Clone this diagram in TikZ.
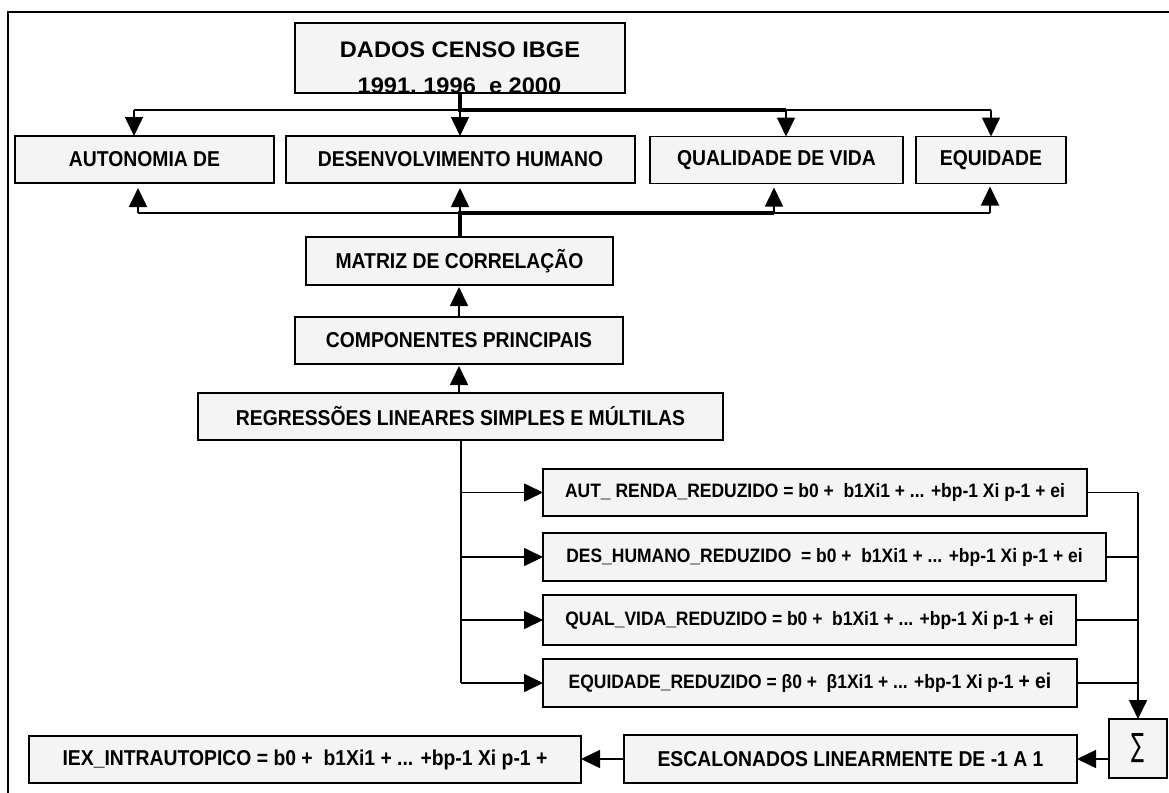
\documentclass[tikz,border=0pt]{standalone}
\usepackage{fontspec}
\setmainfont{Liberation Sans}[FakeStretch=0.9]
\newfontfamily\widefont{Liberation Sans}
\newfontfamily\djv{DejaVu Sans}
\usetikzlibrary{arrows.meta}
\definecolor{boxgray}{RGB}{244,244,244}
\begin{document}
\begin{tikzpicture}[x=1pt,y=-1pt,
  box/.style={draw=black, line width=1.4pt, fill=boxgray, inner sep=0pt, outer sep=0pt,
    font=\fontsize{21.5}{24}\selectfont\bfseries},
  eqbox/.style={box, font=\fontsize{19.4}{23}\selectfont\bfseries},
  conn/.style={line width=1.6pt},
  heavy/.style={line width=3.4pt},
  arr/.style={-{Triangle[length=19pt,width=18pt]}},
  frameline/.style={line width=2.6pt}
]
\useasboundingbox (0,0) rectangle (1169,792);
% outer frame (only top and left edges visible)
\draw[frameline] (8,800) -- (8,12) -- (1180,12);

% top box
\node[box, minimum width=330pt, minimum height=70pt] (dados) at (460,58) {};
\begin{scope}
  \clip (296,24) rectangle (624,92);
  \node[font=\widefont\fontsize{22.5}{24}\selectfont\bfseries, anchor=base, inner sep=0pt] (d1) at (460,57) {\scalebox{1.05}[1]{DADOS CENSO IBGE}};
  \node[font=\widefont\fontsize{22.5}{24}\selectfont\bfseries, anchor=base, inner sep=0pt] (d2) at (459.5,93) {\scalebox{1.05}[1]{1991, 1996\ \ e 2000}};
\end{scope}

% row of four boxes
\node[box, minimum width=259pt, minimum height=47pt] (aut) at (144.5,159.5) {AUTONOMIA DE};
\node[box, minimum width=349pt, minimum height=47pt] (des) at (460.5,159.5) {DESENVOLVIMENTO HUMANO};
\node[box, minimum width=253pt, minimum height=47pt] (qual) at (776.5,160) {QUALIDADE DE VIDA};
\node[box, minimum width=150pt, minimum height=47pt] (equi) at (991,160) {EQUIDADE};

% central column
\node[box, minimum width=307pt, minimum height=48pt] (matriz) at (459.5,261) {MATRIZ DE CORRELAÇÃO};
\node[box, minimum width=328pt, minimum height=47pt] (comp) at (459,340.5) {COMPONENTES PRINCIPAIS};
\node[box, minimum width=525pt, minimum height=47pt] (regr) at (460.5,416.5) {REGRESSÕES LINEARES SIMPLES E MÚLTILAS};

% equations
\node[eqbox, minimum width=544pt, minimum height=47pt] (autEq) at (815,492.5) {AUT\_ RENDA\_REDUZIDO = b0 +\ \ b1Xi1 + ... +bp-1 Xi p-1 + ei};
\node[eqbox, minimum width=563pt, minimum height=48pt] (desEq) at (824.5,557) {DES\_HUMANO\_REDUZIDO\ \ = b0 +\ \ b1Xi1 + ... +bp-1 Xi p-1 + ei};
\node[eqbox, minimum width=533pt, minimum height=50pt] (qualEq) at (809.5,620) {QUAL\_VIDA\_REDUZIDO = b0 +\ \ b1Xi1 + ... +bp-1 Xi p-1 + ei};
\node[eqbox, minimum width=534pt, minimum height=48pt] (equiEq) at (810,683) {EQUIDADE\_REDUZIDO = β0 +\ \ β1Xi1 + ... +bp-1 Xi p-1 {\fontsize{21.5}{24}\selectfont + ei}};

% bottom row
\node[box, minimum width=58pt, minimum height=59pt] (sig) at (1138,748.5) {\djv\mdseries\fontsize{32}{32}\selectfont\scalebox{0.6}[1]{∑}};
\node[box, minimum width=453pt, minimum height=48pt] (esc) at (850.5,759) {ESCALONADOS LINEARMENTE DE -1 A 1};
\node[box, minimum width=552pt, minimum height=47pt] (iex) at (305,759.5) {IEX\_INTRAUTOPICO = b0 +\ \ b1Xi1 + ... +bp-1 Xi p-1 +};

% top distribution
\coordinate (tj) at (460,110);
\coordinate (tl) at (134,110);
\coordinate (tq) at (786,110);
\coordinate (te) at (991,110);
\draw[heavy] (dados.south -| tj) -- (tj) -- (tq);
\draw[conn] (tl) -- (tj);
\draw[conn] (tq) -- (te);
\draw[conn,arr] (tl) -- (tl |- aut.north);
\draw[conn,arr] (tj) -- (tj |- des.north);
\draw[conn,arr] (tq) -- (tq |- qual.north);
\draw[conn,arr] (te) -- (te |- equi.north);

% bottom collection
\coordinate (bj) at (460,213);
\coordinate (bl) at (138,213);
\coordinate (bq) at (774,213);
\coordinate (be) at (990,213);
\draw[heavy] (matriz.north -| bj) -- (bj) -- (bq);
\draw[conn] (bl) -- (bj);
\draw[conn] (bq) -- (be);
\draw[conn,arr,shorten >=5pt] (bl) -- (bl |- aut.south);
\draw[conn,arr,shorten >=5pt] (bj) -- (bj |- des.south);
\draw[conn,arr,shorten >=4pt] (bq) -- (bq |- qual.south);
\draw[conn,arr,shorten >=3pt] (be) -- (be |- equi.south);

% central column arrows
\draw[conn,arr,shorten >=2pt] (comp.north) -- (comp.north |- matriz.south);
\draw[conn,arr,shorten >=2pt] (comp.south |- regr.north) -- (comp.south);

% regressions fan-out
\coordinate (rv) at (461,440);
\draw[conn] (regr.south -| rv) -- (rv |- equiEq.west);
\draw[conn,arr] (rv |- autEq.west) -- (autEq.west);
\draw[conn,arr] (rv |- desEq.west) -- (desEq.west);
\draw[conn,arr] (rv |- qualEq.west) -- (qualEq.west);
\draw[conn,arr] (rv |- equiEq.west) -- (equiEq.west);

% collector to sigma
\draw[conn] (autEq.east) -- (autEq.east -| sig.north);
\draw[conn] (desEq.east) -- (desEq.east -| sig.north);
\draw[conn] (qualEq.east) -- (qualEq.east -| sig.north);
\draw[conn] (equiEq.east) -- (equiEq.east -| sig.north);
\draw[conn,arr] (autEq.east -| sig.north) -- (sig.north);

% bottom chain
\draw[conn,arr] (sig.west |- esc.east) -- (esc.east);
\draw[conn,arr] (esc.west) -- (esc.west -| iex.east);
\end{tikzpicture}
\end{document}
